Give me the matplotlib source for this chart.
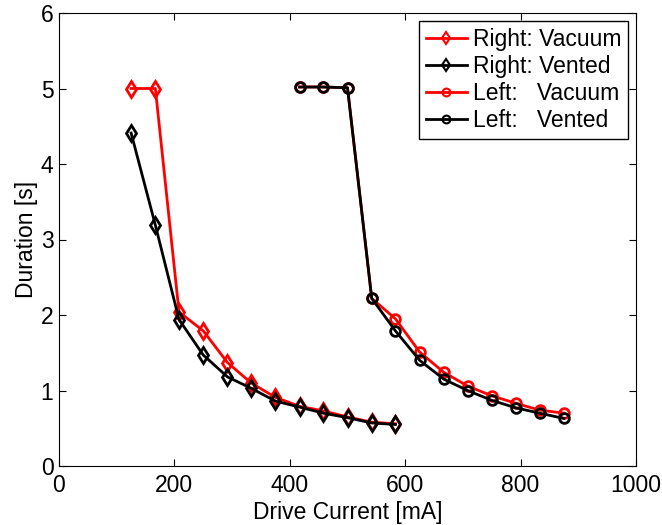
import matplotlib
matplotlib.use("Agg")
import matplotlib.pyplot as plt

plt.rcParams['font.family'] = ['Liberation Sans', 'DejaVu Sans']

right_current = [125, 167, 208, 250, 292, 333, 375, 417, 458, 500, 542, 583]
right_vacuum = [5.0, 5.0, 2.04, 1.79, 1.37, 1.10, 0.91, 0.79, 0.73, 0.65, 0.58, 0.56]
right_vented = [4.41, 3.19, 1.94, 1.47, 1.18, 1.03, 0.86, 0.78, 0.70, 0.64, 0.57, 0.55]

left_current = [417, 458, 500, 542, 583, 625, 667, 708, 750, 792, 833, 875]
left_vacuum = [5.02, 5.02, 5.01, 2.22, 1.95, 1.51, 1.24, 1.06, 0.93, 0.83, 0.74, 0.70]
left_vented = [5.02, 5.02, 5.01, 2.22, 1.79, 1.40, 1.15, 1.00, 0.87, 0.77, 0.70, 0.63]

fig = plt.figure(figsize=(6.62, 5.25), dpi=100)
ax = fig.add_axes([59 / 662, 1 - 466 / 525, (636 - 59) / 662, (466 - 13) / 525])

style = dict(linewidth=2, markeredgewidth=2, markerfacecolor='none')
ax.plot(right_current, right_vacuum, color='red', marker='d', markersize=8, label='Right: Vacuum', **style)
ax.plot(right_current, right_vented, color='black', marker='d', markersize=8, label='Right: Vented', **style)
ax.plot(left_current, left_vacuum, color='red', marker='o', markersize=7, label='Left:   Vacuum', **style)
ax.plot(left_current, left_vented, color='black', marker='o', markersize=7, label='Left:   Vented', **style)

ax.set_xlim(0, 1000)
ax.set_ylim(0, 6)
ax.set_xticks([0, 200, 400, 600, 800, 1000])
ax.set_yticks([0, 1, 2, 3, 4, 5, 6])
ax.tick_params(direction='in', top=True, right=True, labelsize=16.5, length=5)
ax.tick_params(axis='x', pad=6)
ax.tick_params(axis='y', pad=4)
ax.set_xlabel('Drive Current [mA]', fontsize=16.5, labelpad=3)
ax.set_ylabel('Duration [s]', fontsize=16.5, labelpad=2)

leg = ax.legend(loc='upper right', fontsize=16.5, fancybox=False, framealpha=1,
                edgecolor='black', handlelength=1.8, borderpad=0.3, markerscale=0.8,
                labelspacing=0.18, handletextpad=0.25, borderaxespad=0.35)
leg.get_frame().set_linewidth(1)
for h in leg.legend_handles:
    h.set_markeredgewidth(1.5)

fig.savefig('out.png', dpi=100)
